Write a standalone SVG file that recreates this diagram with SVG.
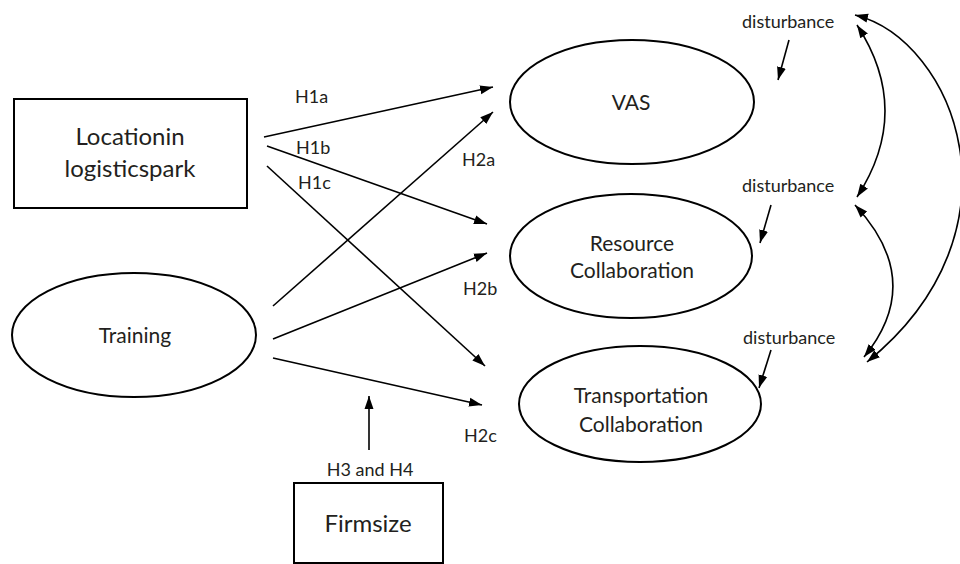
<svg xmlns="http://www.w3.org/2000/svg" width="960" height="564" viewBox="0 0 960 564">
<style>
.box{fill:#fff;stroke:#000;stroke-width:2}
.ell{fill:#fff;stroke:#000;stroke-width:2}
.ln{fill:none;stroke:#000;stroke-width:1.6;marker-end:url(#ah)}
.bi{fill:none;stroke:#000;stroke-width:1.6;marker-start:url(#ah);marker-end:url(#ah)}
text{font-family:Lato,"Open Sans","DejaVu Sans",sans-serif;fill:#231f20}
.big{font-size:24px;text-anchor:middle}
.mid{font-size:21px;text-anchor:middle}
.lbl{font-size:18px}
</style>
<defs>
<marker id="ah" markerUnits="userSpaceOnUse" markerWidth="14" markerHeight="12" viewBox="0 0 14 12" refX="13" refY="6" orient="auto-start-reverse">
<path d="M0,1.5 L13,6 L0,10.5 Z" fill="#000"/>
</marker>
</defs>
<rect width="960" height="564" fill="#fff"/>
<g id="connectors">
<path class="ln" d="M264,137 L493,87"/>
<path class="ln" d="M267,146 L487,224"/>
<path class="ln" d="M267,166 L485,366"/>
<path class="ln" d="M273,306 L493,112"/>
<path class="ln" d="M273,339 L487,253"/>
<path class="ln" d="M273,358 L482,405"/>
<path class="ln" d="M369,450 L369,396"/>
<path class="ln" d="M789,40 L778,80"/>
<path class="ln" d="M771,205 L760,243"/>
<path class="ln" d="M771,350 L759,388"/>
<path class="bi" d="M857,25 Q913,111 857,197"/>
<path class="bi" d="M855,205 Q926,281 864,357"/>
<path class="bi" d="M855,15 C955,40 1030,230 867,362"/>
</g>
<g id="labels">
<text class="lbl" x="295" y="103">H1a</text>
<text class="lbl" x="296" y="154">H1b</text>
<text class="lbl" x="298" y="189">H1c</text>
<text class="lbl" x="462" y="166">H2a</text>
<text class="lbl" x="463" y="295">H2b</text>
<text class="lbl" x="464" y="442">H2c</text>
<text class="lbl" x="370" y="476" text-anchor="middle">H3 and H4</text>
</g>
<g id="location">
<rect class="box" x="14" y="99" width="233" height="109"/>
<text class="big" x="130" y="145">Locationin</text>
<text class="big" x="130" y="177">logisticspark</text>
</g>
<g id="training">
<ellipse class="ell" cx="134" cy="335" rx="122" ry="62"/>
<text class="mid" x="135" y="343">Training</text>
</g>
<g id="firmsize">
<rect class="box" x="294" y="483" width="149" height="80"/>
<text class="big" x="368" y="532">Firmsize</text>
</g>
<g id="vas">
<ellipse class="ell" cx="632" cy="102" rx="122" ry="62"/>
<text class="mid" x="631" y="110">VAS</text>
</g>
<g id="resource">
<ellipse class="ell" cx="631" cy="256" rx="121" ry="62"/>
<text class="mid" x="632" y="251">Resource</text>
<text class="mid" x="632" y="278">Collaboration</text>
</g>
<g id="transportation">
<ellipse class="ell" cx="640" cy="404" rx="121" ry="58"/>
<text class="mid" x="641" y="403">Transportation</text>
<text class="mid" x="641" y="432">Collaboration</text>
</g>
<g id="disturbances">
<text class="lbl" x="742" y="28">disturbance</text>
<text class="lbl" x="742" y="192">disturbance</text>
<text class="lbl" x="743" y="344">disturbance</text>
</g>
</svg>
